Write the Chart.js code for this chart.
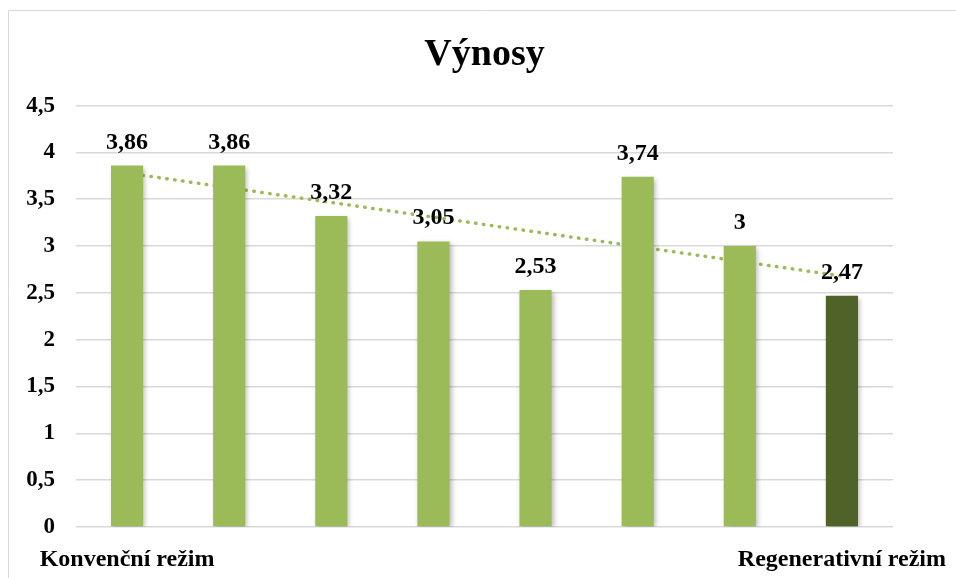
<!DOCTYPE html>
<html>
<head>
<meta charset="utf-8">
<script src="https://cdn.jsdelivr.net/npm/chart.js@4"></script>
<style>
  html, body { margin: 0; padding: 0; background: #ffffff; }
  #wrap { position: relative; width: 956px; height: 578px; }
</style>
</head>
<body>
<div id="wrap"><canvas id="chart"></canvas></div>
<script>
// Yield per season, conventional -> regenerative
const categories = ['Konvenční režim', '', '', '', '', '', '', 'Regenerativní režim'];
const yields = [3.86, 3.86, 3.32, 3.05, 2.53, 3.74, 3, 2.47];
const barColors = ['#9BBB59', '#9BBB59', '#9BBB59', '#9BBB59', '#9BBB59', '#9BBB59', '#9BBB59', '#4F6228'];
// linear trend, only the two end points
const trendLine = [3.78, null, null, null, null, null, null, 2.68];
const yMin = 0;
const yMax = 4.5;
const yStep = 0.5;

const SERIF = "'Liberation Serif', 'Times New Roman', serif";
const fmt = v => String(v).replace('.', ',');

// light frame round the chart (top and left edges only)
const framePlugin = {
  id: 'frame',
  beforeDraw(chart) {
    const ctx = chart.ctx;
    ctx.save();
    ctx.strokeStyle = '#d9d9d9';
    ctx.lineWidth = 1;
    ctx.beginPath();
    ctx.moveTo(8.5, chart.height);
    ctx.lineTo(8.5, 10.5);
    ctx.lineTo(chart.width, 10.5);
    ctx.stroke();
    ctx.restore();
  }
};

// soft drop shadow under the bars
const barShadow = {
  id: 'barShadow',
  beforeDatasetDraw(chart, args) {
    if (args.meta.type !== 'bar') return;
    const ctx = chart.ctx;
    ctx.save();
    ctx.shadowColor = 'rgba(0,0,0,0.28)';
    ctx.shadowBlur = 5;
    ctx.shadowOffsetX = 2;
    ctx.shadowOffsetY = 2;
  },
  afterDatasetDraw(chart, args) {
    if (args.meta.type !== 'bar') return;
    chart.ctx.restore();
  }
};

// value labels above each bar
const valueLabels = {
  id: 'valueLabels',
  afterDatasetsDraw(chart) {
    const ctx = chart.ctx;
    const meta = chart.getDatasetMeta(0);
    ctx.save();
    ctx.font = 'bold 24px ' + SERIF;
    ctx.fillStyle = '#000000';
    ctx.textAlign = 'center';
    ctx.textBaseline = 'alphabetic';
    meta.data.forEach((bar, i) => {
      ctx.fillText(fmt(yields[i]), bar.x, bar.y - 17);
    });
    ctx.restore();
  }
};

new Chart(document.getElementById('chart'), {
  data: {
    labels: categories,
    datasets: [
      {
        type: 'bar',
        data: yields,
        backgroundColor: barColors,
        barPercentage: 0.315,
        categoryPercentage: 1,
        order: 1
      },
      {
        type: 'line',
        data: trendLine,
        spanGaps: true,
        borderColor: '#9BBB59',
        borderWidth: 3.5,
        borderDash: [0.5, 7.5],
        borderCapStyle: 'round',
        pointRadius: 0,
        fill: false,
        order: 2
      }
    ]
  },
  options: {
    responsive: true,
    maintainAspectRatio: false,
    animation: false,
    layout: { padding: { top: 32, right: 63, bottom: 0, left: 0 } },
    plugins: {
      legend: { display: false },
      tooltip: { enabled: false },
      title: {
        display: true,
        text: 'Výnosy',
        color: '#000000',
        fullSize: false,
        font: { family: SERIF, size: 38, weight: 'bold' },
        padding: { top: 0, bottom: 28 }
      }
    },
    scales: {
      x: {
        grid: { display: false },
        border: { display: false },
        ticks: {
          color: '#000000',
          font: { family: SERIF, size: 24, weight: 'bold' },
          padding: 10,
          maxRotation: 0,
          autoSkip: false
        },
        afterFit(scale) {
          scale.height = 51;
          scale.paddingLeft = 0;
          scale.paddingRight = 0;
        }
      },
      y: {
        min: yMin,
        max: yMax,
        grid: { color: '#d9d9d9', lineWidth: 1.5, drawTicks: false },
        border: { display: false },
        ticks: {
          stepSize: yStep,
          color: '#000000',
          font: { family: SERIF, size: 23, weight: 'bold' },
          padding: 21,
          callback: v => fmt(v)
        },
        afterFit(scale) {
          scale.width = 76;
          scale.paddingTop = 0;
          scale.paddingBottom = 0;
        }
      }
    }
  },
  plugins: [framePlugin, barShadow, valueLabels]
});
</script>
</body>
</html>
